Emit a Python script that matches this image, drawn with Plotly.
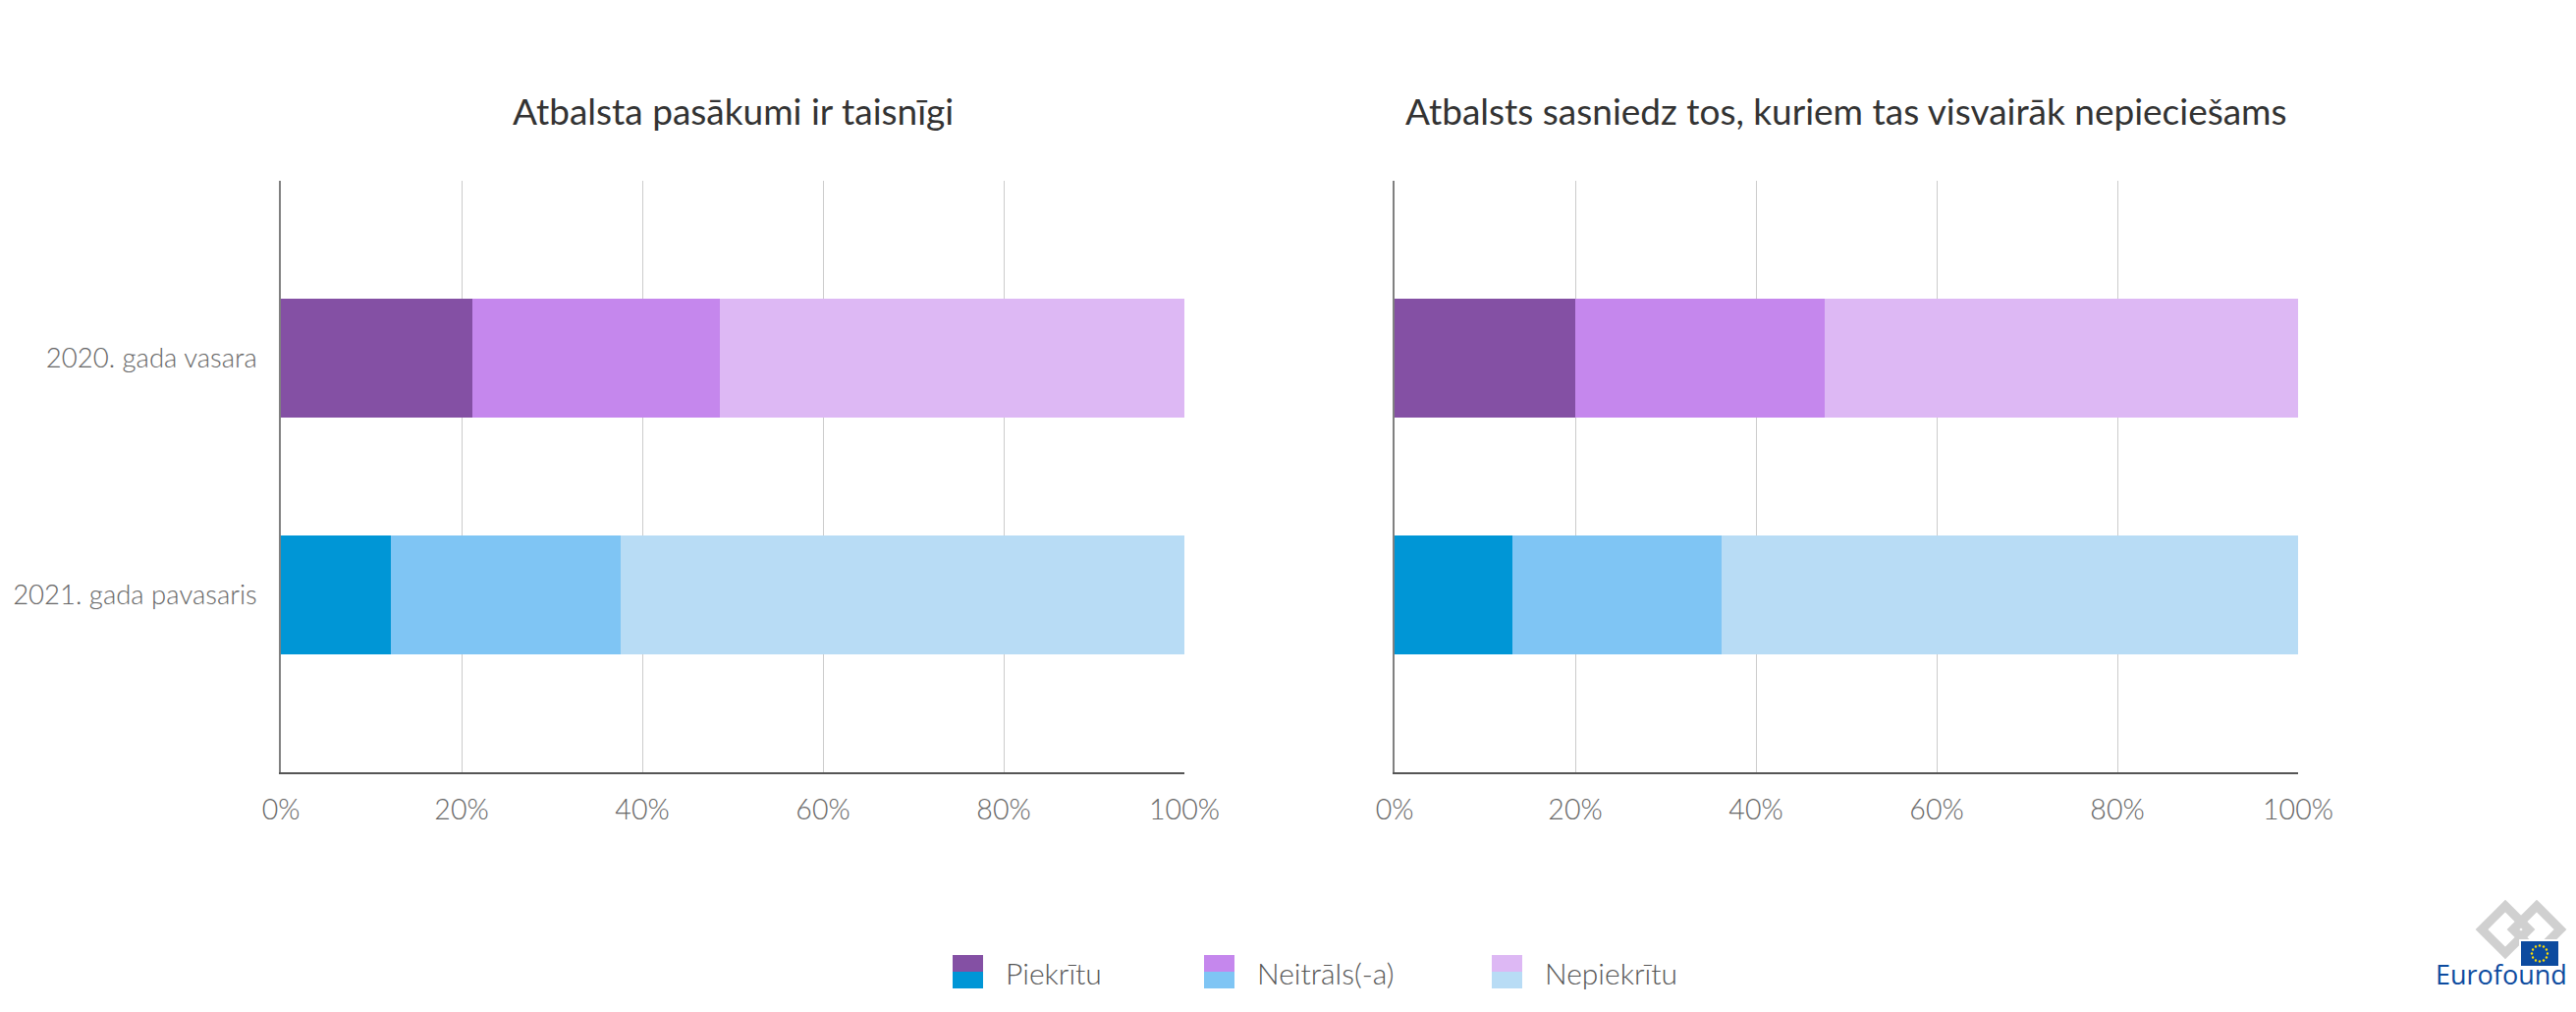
import math
import plotly.graph_objects as go

W, H = 2623, 1030          # target viewport
OFF = 8                    # default page body margin
FW, FH = W - 2 * OFF, H - 2 * OFF

categories = ["2020. gada vasara", "2021. gada pavasaris"]
series_names = ["Piekrītu", "Neitrāls(-a)", "Nepiekrītu"]
panel_titles = ["Atbalsta pasākumi ir taisnīgi",
                "Atbalsts sasniedz tos, kuriem tas visvairāk nepieciešams"]

# values per panel: [2020, 2021]
left_piekritu = [21.2, 12.2]
left_neitrals = [27.4, 25.4]
left_nepiekritu = [51.4, 62.4]

right_piekritu = [20.0, 13.0]
right_neitrals = [27.6, 23.2]
right_nepiekritu = [52.4, 63.8]

tick_vals = [0, 20, 40, 60, 80, 100]
tick_text = ["0%", "20%", "40%", "60%", "80%", "100%"]

# colours: [2020 colour, 2021 colour] per series
series_colors = [
    ["#8450A4", "#0096D6"],
    ["#C587ED", "#7FC5F4"],
    ["#DDB8F4", "#B8DCF5"],
]

panels = [
    [left_piekritu, left_neitrals, left_nepiekritu],
    [right_piekritu, right_neitrals, right_nepiekritu],
]


def px_x(v):
    return (v - OFF) / FW


def px_y(v):
    return 1 - (v - OFF) / FH


fig = go.Figure()
xaxes = ["x", "x2"]
yaxes = ["y", "y2"]
for p, vals in enumerate(panels):
    for s, name in enumerate(series_names):
        fig.add_trace(go.Bar(
            x=vals[s], y=categories, orientation="h", name=name,
            marker=dict(color=series_colors[s], line=dict(width=0)),
            width=0.5, showlegend=False,
            xaxis=xaxes[p], yaxis=yaxes[p],
            hovertemplate="%{y}: %{x}%<extra>" + name + "</extra>",
        ))

font_family = "Lato, 'Open Sans', sans-serif"
tick_font = dict(family=font_family, size=28.5, color="#666666", weight=300)
ytick_font = dict(family=font_family, size=27.5, color="#666666", weight=300)

x_common = dict(range=[0, 100], tickvals=tick_vals, ticktext=tick_text,
                showgrid=True, gridcolor="#CCCCCC", gridwidth=1.4,
                zeroline=False, showline=True, linecolor="#555555", linewidth=2,
                ticks="", tickfont=tick_font, ticklabelstandoff=12,
                automargin=False, fixedrange=True)
y_common = dict(type="category", categoryorder="array", categoryarray=categories,
                range=[1.75, -0.75], showgrid=False, zeroline=False,
                showline=True, linecolor="#808080", linewidth=1.5,
                ticks="", tickfont=ytick_font, automargin=False, fixedrange=True)

dom_left = [px_x(286), px_x(1206)]
dom_right = [px_x(1420), px_x(2340)]
dom_y = [px_y(786), px_y(184)]

fig.update_layout(
    width=FW, height=FH,
    margin=dict(l=0, r=0, t=0, b=0, autoexpand=False),
    paper_bgcolor="white", plot_bgcolor="white",
    barmode="stack", bargap=0.5,
    font=dict(family=font_family, color="#444444"),
    xaxis=dict(domain=dom_left, anchor="y", **x_common),
    yaxis=dict(domain=dom_y, anchor="x", showticklabels=True, ticklabelstandoff=17, **y_common),
    xaxis2=dict(domain=dom_right, anchor="y2", **x_common),
    yaxis2=dict(domain=dom_y, anchor="x2", showticklabels=False, **y_common),
)

annotations = []
for i, t in enumerate(panel_titles):
    dom = dom_left if i == 0 else dom_right
    annotations.append(dict(
        text=t, x=(dom[0] + dom[1]) / 2, y=px_y(113), xref="paper", yref="paper",
        showarrow=False, xanchor="center", yanchor="middle",
        font=dict(family=font_family, size=37, color="#333333"),
    ))

shapes = []
legend_sq_x = [970, 1226, 1519]
for i, name in enumerate(series_names):
    x0 = legend_sq_x[i]
    shapes.append(dict(type="rect", xref="paper", yref="paper",
                       x0=px_x(x0), x1=px_x(x0 + 31), y0=px_y(989), y1=px_y(972),
                       fillcolor=series_colors[i][0], line=dict(width=0)))
    shapes.append(dict(type="rect", xref="paper", yref="paper",
                       x0=px_x(x0), x1=px_x(x0 + 31), y0=px_y(1006), y1=px_y(989),
                       fillcolor=series_colors[i][1], line=dict(width=0)))
    annotations.append(dict(
        text=name, x=px_x(x0 + 52), y=px_y(990), xref="paper", yref="paper",
        showarrow=False, xanchor="left", yanchor="middle",
        font=dict(family=font_family, size=30, color="#555555", weight=300),
    ))


# Eurofound logo (decorative)
def diamond_path(cx, cy, r):
    pts = [(cx, cy - r), (cx + r, cy), (cx, cy + r), (cx - r, cy)]
    return "M " + " L ".join(f"{px_x(a)},{px_y(b)}" for a, b in pts) + " Z"


shapes.append(dict(type="path", xref="paper", yref="paper",
                   path=diamond_path(2551, 946, 24),
                   line=dict(color="#D0D0D0", width=9), fillcolor="rgba(0,0,0,0)"))
shapes.append(dict(type="path", xref="paper", yref="paper",
                   path=diamond_path(2583, 946, 24),
                   line=dict(color="#D0D0D0", width=9), fillcolor="rgba(0,0,0,0)"))
shapes.append(dict(type="rect", xref="paper", yref="paper",
                   x0=px_x(2566), x1=px_x(2606), y0=px_y(984), y1=px_y(957),
                   fillcolor="#0D4B9F", line=dict(color="white", width=2)))
for k in range(12):
    a = 2 * math.pi * k / 12
    cx = 2586 + 8 * math.cos(a)
    cy = 970.5 + 8 * math.sin(a)
    shapes.append(dict(type="circle", xref="paper", yref="paper",
                       x0=px_x(cx - 1.2), x1=px_x(cx + 1.2),
                       y0=px_y(cy + 1.2), y1=px_y(cy - 1.2),
                       fillcolor="#FFDD00", line=dict(width=0)))
annotations.append(dict(
    text="Eurofound", x=px_x(2547), y=px_y(991), xref="paper", yref="paper",
    showarrow=False, xanchor="center", yanchor="middle",
    font=dict(family="'Open Sans', sans-serif", size=27, color="#0D4B9F"),
))

fig.update_layout(annotations=annotations, shapes=shapes)

fig.write_html("out.html")
